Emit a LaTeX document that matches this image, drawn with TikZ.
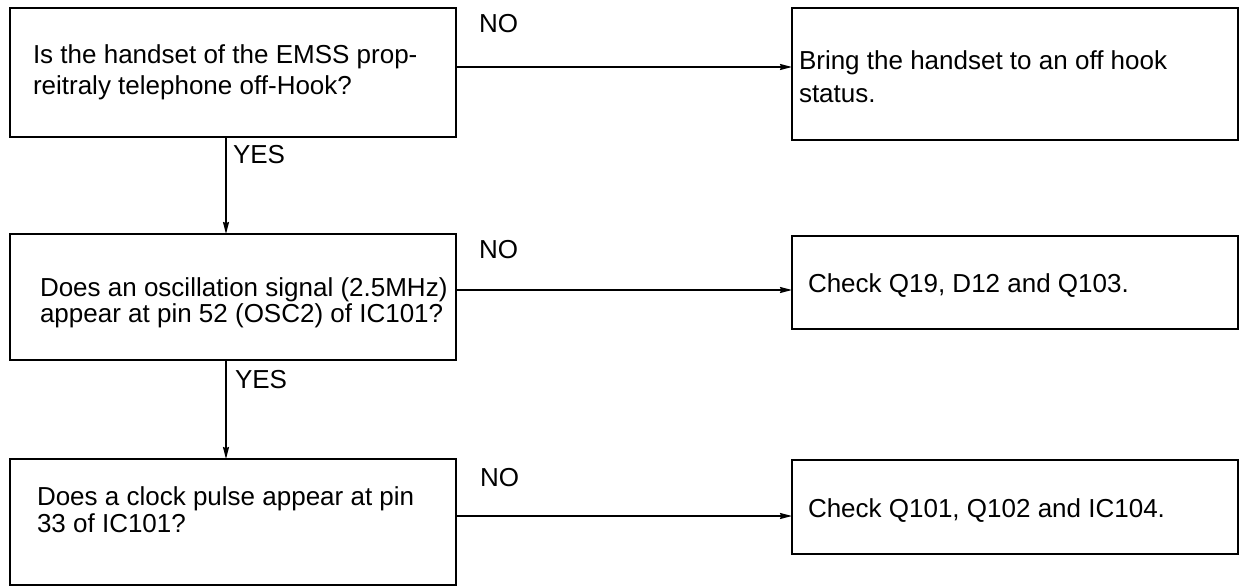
\documentclass[tikz,border=0pt]{standalone}
\usepackage{fontspec}
\setmainfont{Liberation Sans}
\usetikzlibrary{arrows.meta}
\begin{document}
\begin{tikzpicture}[x=1pt,y=-1pt,
  box/.style={draw,line width=2pt,inner sep=0pt,outer sep=0pt,anchor=north west},
  txt/.style={inner sep=0pt,outer sep=0pt,align=left,anchor=north west},
  lbl/.style={inner sep=0pt,outer sep=0pt,anchor=base west,font=\fontsize{26}{31}\selectfont},
  conn/.style={line width=1.3pt,-{Stealth[length=12pt,width=6pt,inset=1pt]}}]
\useasboundingbox (0,0) rectangle (1240,586);
% boxes
\node[box,minimum width=446,minimum height=129] (q1) at (10,8) {};
\node[box,minimum width=446,minimum height=132] (a1) at (792,8) {};
\node[box,minimum width=446,minimum height=126] (q2) at (10,234) {};
\node[box,minimum width=446,minimum height=93] (a2) at (792,236) {};
\node[box,minimum width=446,minimum height=126] (q3) at (10,459) {};
\node[box,minimum width=446,minimum height=94] (a3) at (792,460) {};
% texts
\node[txt,font=\fontsize{26}{31}\selectfont] (q1t) at (33,45) {Is the handset of the EMSS prop-\\reitraly telephone off-Hook?};
\node[txt,font=\fontsize{26}{33}\selectfont] (a1t) at (799,51) {Bring the handset to an off hook\\status.};
\node[txt,font=\fontsize{26}{24}\selectfont] (q2t) at (40,278) {Does an oscillation signal (2.5MHz)\\appear at pin 52 (OSC2) of IC101?};
\node[lbl] (a2t) at (808,292) {Check Q19, D12 and Q103.};
\node[txt,font=\fontsize{26}{27}\selectfont] (q3t) at (37,487) {Does a clock pulse appear at pin\\33 of IC101?};
\node[lbl] (a3t) at (808,517) {Check Q101, Q102 and IC104.};
% labels
\node[lbl] (no1) at (479,33) {NO};
\node[lbl] (no2) at (479,258) {NO};
\node[lbl] (no3) at (480,486) {NO};
\node[lbl] (yes1) at (233,163) {YES};
\node[lbl] (yes2) at (235,388) {YES};
% connectors
\coordinate (h1) at (0,67);
\coordinate (h2) at (0,290);
\coordinate (h3) at (0,516);
\coordinate (vx) at (226,0);
\draw[conn] (q1.east |- h1) -- (a1.west |- h1);
\draw[conn] (q2.east |- h2) -- (a2.west |- h2);
\draw[conn] (q3.east |- h3) -- (a3.west |- h3);
\draw[conn] (q1.south -| vx) -- (q2.north -| vx);
\draw[conn] (q2.south -| vx) -- (q3.north -| vx);
\end{tikzpicture}
\end{document}
